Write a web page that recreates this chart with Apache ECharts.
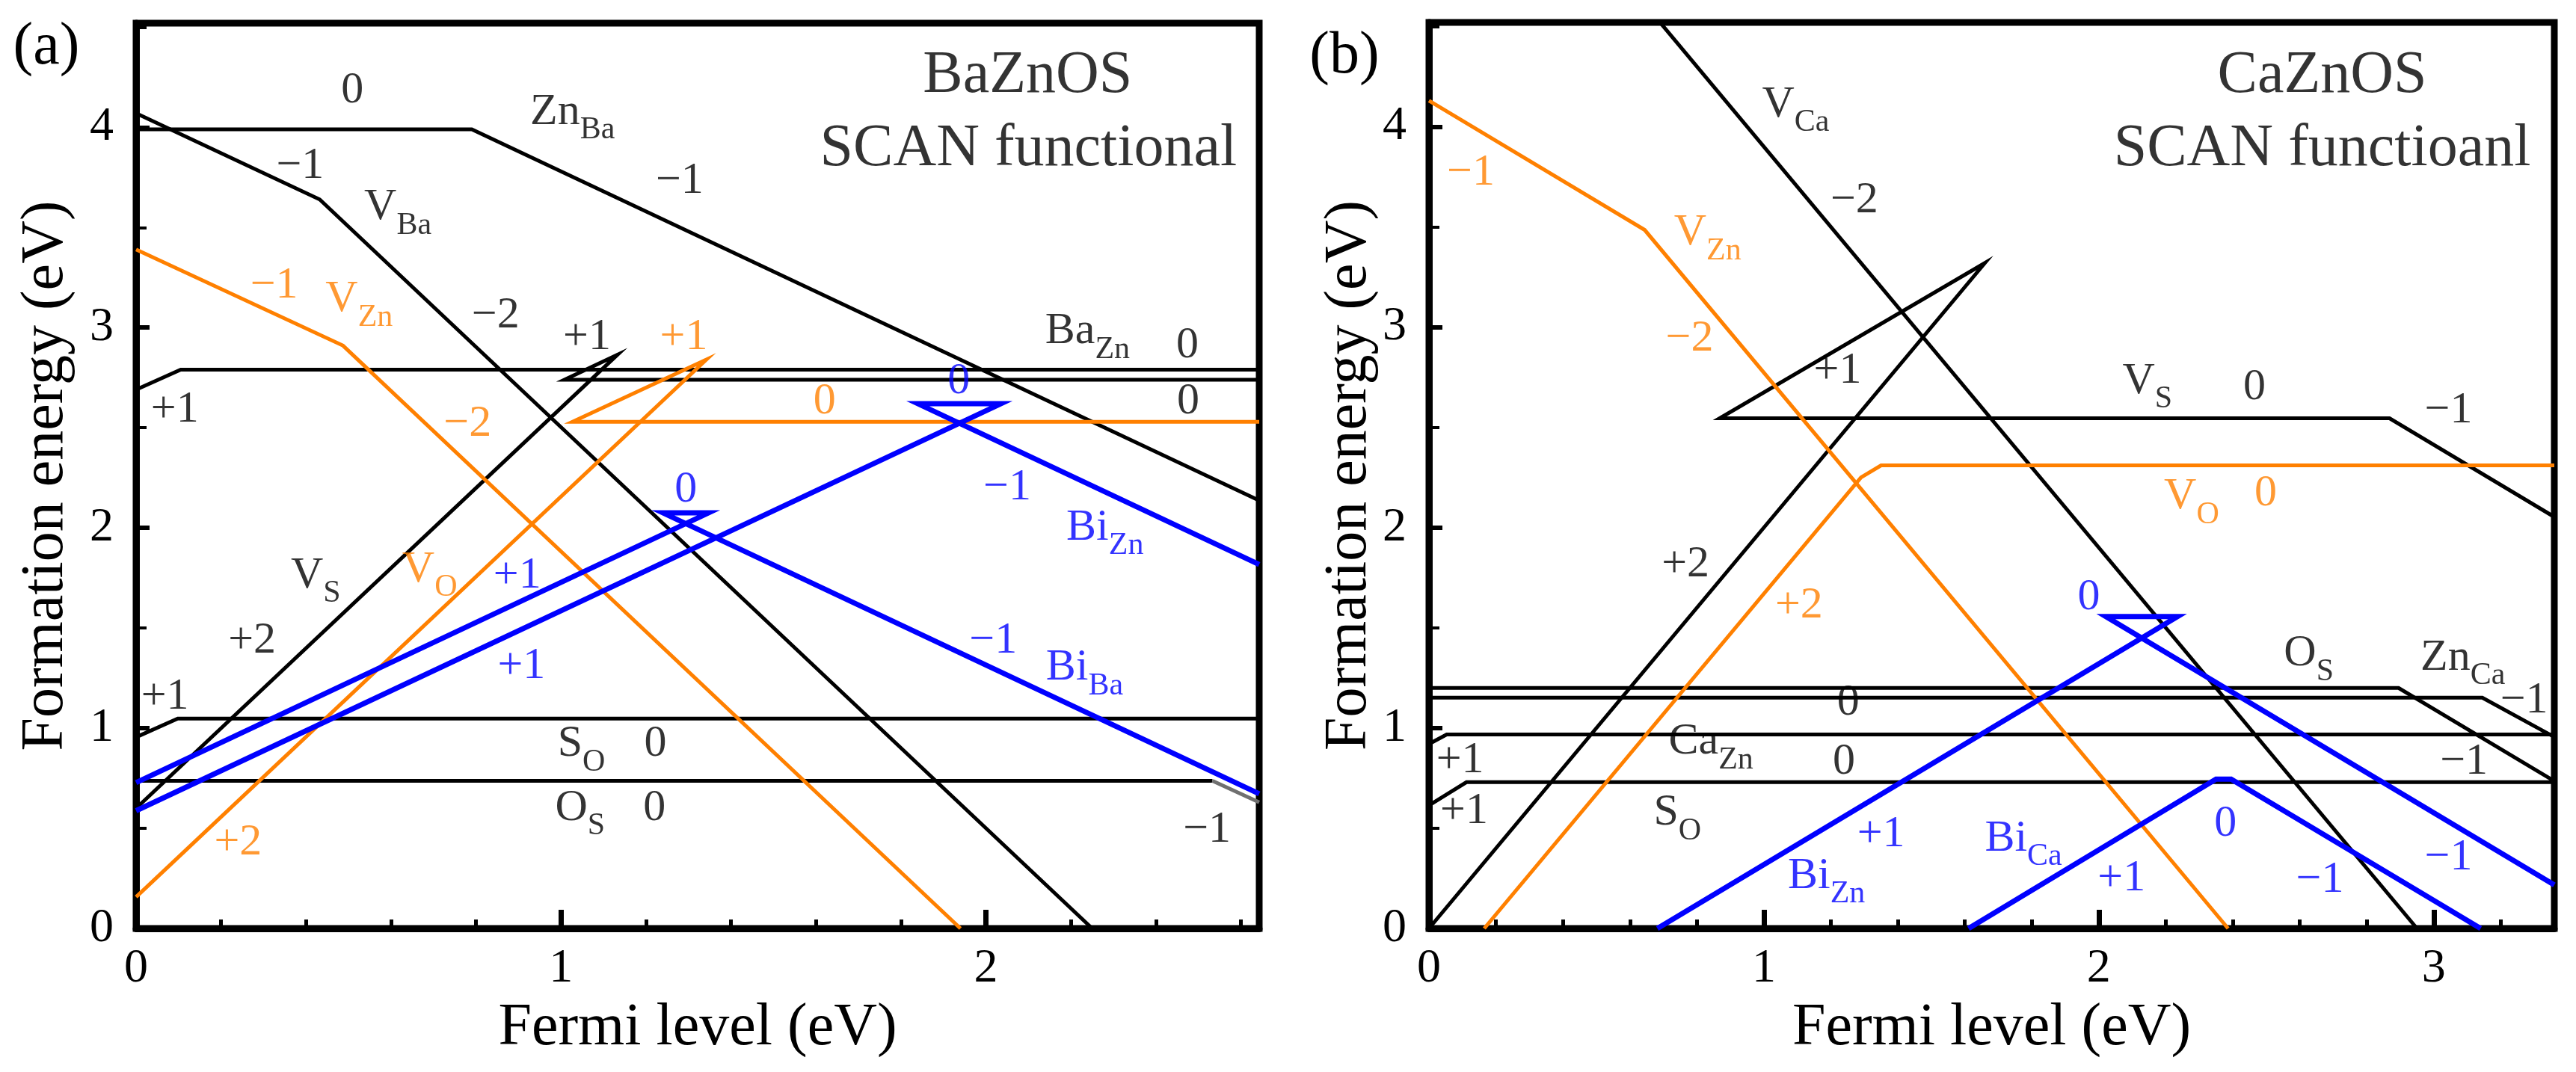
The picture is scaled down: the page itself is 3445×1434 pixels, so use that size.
<!DOCTYPE html>
<html>
<head>
<meta charset="utf-8">
<script src="https://cdn.jsdelivr.net/npm/echarts@6/dist/echarts.min.js"></script>
<style>
html,body{margin:0;padding:0;background:#fff;}
#chart{width:3445px;height:1434px;}
</style>
</head>
<body>
<div id="chart"></div>
<script>
// ---------------- axis ranges & tick labels ----------------
const xMaxA = 2.643, xMaxB = 3.36, yMax = 4.52;
const xTicksA = [0, 1, 2];
const xTicksB = [0, 1, 2, 3];
const yTicks = [0, 1, 2, 3, 4];

// ---------------- Panel (a) BaZnOS : defect lines ----------------
const a_ZnBa = [[0, 3.99], [0.79, 3.99], [2.643, 2.137]];
const a_VBa  = [[0, 4.07], [0.432, 3.64], [2.25, 0]];
const a_BaZn = [[0, 2.69], [0.105, 2.79], [2.643, 2.79]];
const a_VS   = [[0, 0.60], [1.133, 2.865], [1.008, 2.74], [2.643, 2.74]];
const a_SO   = [[0, 0.955], [0.098, 1.048], [2.643, 1.048]];
const a_OS   = [[0, 0.737], [2.533, 0.737]];
const a_OSm1 = [[2.533, 0.737], [2.643, 0.63]];
const a_VZn  = [[0, 3.39], [0.487, 2.91], [1.94, 0]];
const a_VO   = [[0, 0.157], [1.342, 2.84], [1.027, 2.53], [2.643, 2.53]];
const a_BiZn = [[0, 0.588], [2.035, 2.62], [1.84, 2.62], [2.643, 1.817]];
const a_BiBa = [[0, 0.728], [1.347, 2.075], [1.24, 2.075], [2.643, 0.672]];

// ---------------- Panel (b) CaZnOS : defect lines ----------------
const b_VCa  = [[0.6, 4.7], [2.95, 0]];
const b_VZn  = [[0, 4.13], [0.644, 3.485], [2.386, 0]];
const b_VS   = [[0, 0], [1.66, 3.32], [0.868, 2.545], [2.868, 2.545], [3.36, 2.053]];
const b_VO   = [[0.165, 0], [1.29, 2.25], [1.35, 2.31], [3.36, 2.31]];
const b_OS   = [[0, 1.20], [2.895, 1.20], [3.36, 0.735]];
const b_ZnCa = [[0, 1.151], [3.145, 1.151], [3.36, 0.955]];
const b_CaZn = [[0, 0.92], [0.053, 0.968], [3.36, 0.968]];
const b_SO   = [[0, 0.614], [0.112, 0.73], [3.36, 0.73]];
const b_BiZn = [[0.682, 0], [2.235, 1.556], [2.021, 1.556], [3.36, 0.217]];
const b_BiCa = [[1.611, 0], [2.35, 0.745], [2.395, 0.745], [3.14, 0]];

// ---------------- annotation texts: [x, y, main, subscript] ----------------
const a_labels_black = [
  [0.509, 4.185, '0'], [1.027, 4.076, 'Zn', 'Ba'], [1.279, 3.73, '−1'],
  [0.386, 3.806, '−1'], [0.616, 3.60, 'V', 'Ba'], [0.846, 3.06, '−2'],
  [1.061, 2.95, '+1'], [0.091, 2.59, '+1'], [2.239, 2.98, 'Ba', 'Zn'],
  [2.474, 2.91, '0'], [2.476, 2.63, '0'], [0.423, 1.76, 'V', 'S'],
  [0.273, 1.435, '+2'], [0.068, 1.155, '+1'], [1.048, 0.92, 'S', 'O'],
  [1.222, 0.92, '0'], [1.045, 0.60, 'O', 'S'], [1.22, 0.60, '0'],
  [2.52, 0.49, '−1']
];
const a_labels_orange = [
  [0.325, 3.21, '−1'], [0.525, 3.14, 'V', 'Zn'], [0.78, 2.52, '−2'],
  [1.289, 2.95, '+1'], [1.62, 2.63, '0'], [0.691, 1.79, 'V', 'O'],
  [0.24, 0.427, '+2']
];
const a_labels_blue = [
  [1.936, 2.73, '0'], [2.05, 2.20, '−1'], [2.28, 2.00, 'Bi', 'Zn'],
  [1.294, 2.19, '0'], [0.897, 1.76, '+1'], [0.907, 1.31, '+1'],
  [2.017, 1.435, '−1'], [2.232, 1.30, 'Bi', 'Ba']
];
const b_labels_black = [
  [1.095, 4.11, 'V', 'Ca'], [1.27, 3.63, '−2'], [1.22, 2.78, '+1'],
  [2.145, 2.73, 'V', 'S'], [2.465, 2.70, '0'], [3.044, 2.585, '−1'],
  [0.766, 1.817, '+2'], [1.252, 1.127, '0'], [0.842, 0.93, 'Ca', 'Zn'],
  [1.239, 0.83, '0'], [0.093, 0.84, '+1'], [0.105, 0.586, '+1'],
  [0.742, 0.576, 'S', 'O'], [2.627, 1.37, 'O', 'S'], [3.087, 1.35, 'Zn', 'Ca'],
  [3.27, 1.136, '−1'], [3.09, 0.83, '−1']
];
const b_labels_orange = [
  [0.125, 3.77, '−1'], [0.832, 3.47, 'V', 'Zn'], [0.778, 2.94, '−2'],
  [1.105, 1.61, '+2'], [2.277, 2.153, 'V', 'O'], [2.498, 2.17, '0']
];
const b_labels_blue = [
  [1.97, 1.65, '0'], [1.35, 0.47, '+1'], [1.187, 0.26, 'Bi', 'Zn'],
  [1.775, 0.446, 'Bi', 'Ca'], [2.068, 0.25, '+1'], [2.378, 0.52, '0'],
  [2.66, 0.24, '−1'], [3.044, 0.353, '−1']
];
const a_titles = [[2.098, 4.255, 'BaZnOS'], [2.10, 3.89, 'SCAN functional']];
const b_titles = [[2.667, 4.25, 'CaZnOS'], [2.667, 3.885, 'SCAN functioanl']];

// ---------------- styling ----------------
const FONT = "'Liberation Serif', 'Times New Roman', serif";
const BLACK = '#000000', ORANGE = '#ff8000', BLUE = '#0000ff', GREY = '#707070';

function lineSeries(data, color, width, gi, z) {
  return {
    type: 'line', data: data, xAxisIndex: gi, yAxisIndex: gi,
    symbol: 'none', showSymbol: false, silent: true, animation: false,
    clip: true, z: z || 2,
    lineStyle: { color: color, width: width, cap: 'butt', join: 'miter' }
  };
}

function labelSeries(items, color, gi, fontSize, subSize) {
  return {
    type: 'scatter', xAxisIndex: gi, yAxisIndex: gi, silent: true, animation: false,
    symbolSize: 1, itemStyle: { color: 'rgba(0,0,0,0)' }, z: 10,
    data: items.map(function (it) { return [it[0], it[1], it[2], it[3] || '']; }),
    label: {
      show: true, position: 'inside', align: 'center', verticalAlign: 'middle',
      formatter: function (p) {
        const m = p.data[2], s = p.data[3];
        return s ? '{m|' + m + '}{s|' + s + '}' : '{m|' + m + '}';
      },
      rich: {
        m: { fontSize: fontSize, fontFamily: FONT, color: color, lineHeight: Math.round(fontSize * 1.5) },
        s: { fontSize: subSize, fontFamily: FONT, color: color, lineHeight: subSize, verticalAlign: 'bottom' }
      }
    }
  };
}

function xAxisMain(gi, max, ticks, gap) {
  return {
    gridIndex: gi, type: 'value', min: 0, max: max, interval: 1, position: 'bottom',
    name: 'Fermi level (eV)', nameLocation: 'middle', nameGap: gap,
    nameTextStyle: { fontSize: 80, fontFamily: FONT, color: BLACK },
    axisLine: { show: true, onZero: false, lineStyle: { color: BLACK, width: 9 } },
    axisTick: { show: true, inside: true, length: 25, lineStyle: { color: BLACK, width: 7 } },
    axisLabel: {
      show: true, fontSize: 64, fontFamily: FONT, color: BLACK, margin: 22,
      formatter: function (v) { return ticks.indexOf(v) >= 0 ? String(v) : ''; }
    },
    splitLine: { show: false }
  };
}
function xAxisMinor(gi, max) {
  return {
    gridIndex: gi, type: 'value', min: 0, max: max, interval: 0.2, position: 'bottom',
    axisLine: { show: false, onZero: false },
    axisTick: { show: true, inside: true, length: 12, lineStyle: { color: BLACK, width: 5 } },
    axisLabel: { show: false }, splitLine: { show: false }
  };
}
function yAxisMain(gi, gap) {
  return {
    gridIndex: gi, type: 'value', min: 0, max: yMax, interval: 1, position: 'left',
    name: 'Formation energy (eV)', nameLocation: 'middle', nameGap: gap, nameRotate: 90,
    nameTextStyle: { fontSize: 80, fontFamily: FONT, color: BLACK },
    axisLine: { show: true, onZero: false, lineStyle: { color: BLACK, width: 9 } },
    axisTick: { show: true, inside: true, length: 18, lineStyle: { color: BLACK, width: 6 } },
    axisLabel: {
      show: true, fontSize: 64, fontFamily: FONT, color: BLACK, margin: 30,
      formatter: function (v) { return yTicks.indexOf(v) >= 0 ? String(v) : ''; }
    },
    splitLine: { show: false }
  };
}
function yAxisMinor(gi) {
  return {
    gridIndex: gi, type: 'value', min: 0, max: yMax, interval: 0.5, position: 'left',
    axisLine: { show: false, onZero: false },
    axisTick: { show: true, inside: true, length: 14, lineStyle: { color: BLACK, width: 4 } },
    axisLabel: { show: false }, splitLine: { show: false }
  };
}

const chart = echarts.init(document.getElementById('chart'), null, { renderer: 'canvas' });

const series = [
  // panel a
  lineSeries(a_ZnBa, BLACK, 5, 0), lineSeries(a_VBa, BLACK, 5, 0),
  lineSeries(a_BaZn, BLACK, 5, 0), lineSeries(a_VS, BLACK, 5, 0),
  lineSeries(a_SO, BLACK, 5, 0), lineSeries(a_OS, BLACK, 5, 0),
  lineSeries(a_OSm1, GREY, 5, 0),
  lineSeries(a_VZn, ORANGE, 5, 0, 3), lineSeries(a_VO, ORANGE, 5, 0, 3),
  lineSeries(a_BiZn, BLUE, 7, 0, 4), lineSeries(a_BiBa, BLUE, 7, 0, 4),
  // panel b
  lineSeries(b_VCa, BLACK, 5, 1), lineSeries(b_VS, BLACK, 5, 1),
  lineSeries(b_OS, BLACK, 5, 1), lineSeries(b_ZnCa, BLACK, 5, 1),
  lineSeries(b_CaZn, BLACK, 5, 1), lineSeries(b_SO, BLACK, 5, 1),
  lineSeries(b_VZn, ORANGE, 5, 1, 3), lineSeries(b_VO, ORANGE, 5, 1, 3),
  lineSeries(b_BiZn, BLUE, 7, 1, 4), lineSeries(b_BiCa, BLUE, 7, 1, 4),
  // labels
  labelSeries(a_labels_black, BLACK, 0, 60, 42),
  labelSeries(a_labels_orange, ORANGE, 0, 60, 42),
  labelSeries(a_labels_blue, BLUE, 0, 60, 42),
  labelSeries(b_labels_black, BLACK, 1, 60, 42),
  labelSeries(b_labels_orange, ORANGE, 1, 60, 42),
  labelSeries(b_labels_blue, BLUE, 1, 60, 42),
  labelSeries(a_titles, BLACK, 0, 80, 56),
  labelSeries(b_titles, BLACK, 1, 80, 56)
];

chart.setOption({
  animation: false,
  backgroundColor: '#ffffff',
  textStyle: { fontFamily: FONT },
  grid: [
    { left: 182, right: 1761, top: 31, bottom: 192, show: true, borderColor: BLACK, borderWidth: 9, containLabel: false },
    { left: 1911, right: 29, top: 30, bottom: 192, show: true, borderColor: BLACK, borderWidth: 9, containLabel: false }
  ],
  xAxis: [
    xAxisMain(0, xMaxA, xTicksA, 94), xAxisMain(1, xMaxB, xTicksB, 94),
    xAxisMinor(0, xMaxA), xAxisMinor(1, xMaxB)
  ],
  yAxis: [
    yAxisMain(0, 80), yAxisMain(1, 64),
    yAxisMinor(0), yAxisMinor(1)
  ],
  graphic: [
    { type: 'text', x: 62, y: 64, style: { text: '(a)', fontSize: 80, fontFamily: FONT, fill: BLACK, align: 'center', verticalAlign: 'middle' } },
    { type: 'text', x: 1798, y: 76, style: { text: '(b)', fontSize: 80, fontFamily: FONT, fill: BLACK, align: 'center', verticalAlign: 'middle' } }
  ],
  series: series
});
</script>
</body>
</html>
